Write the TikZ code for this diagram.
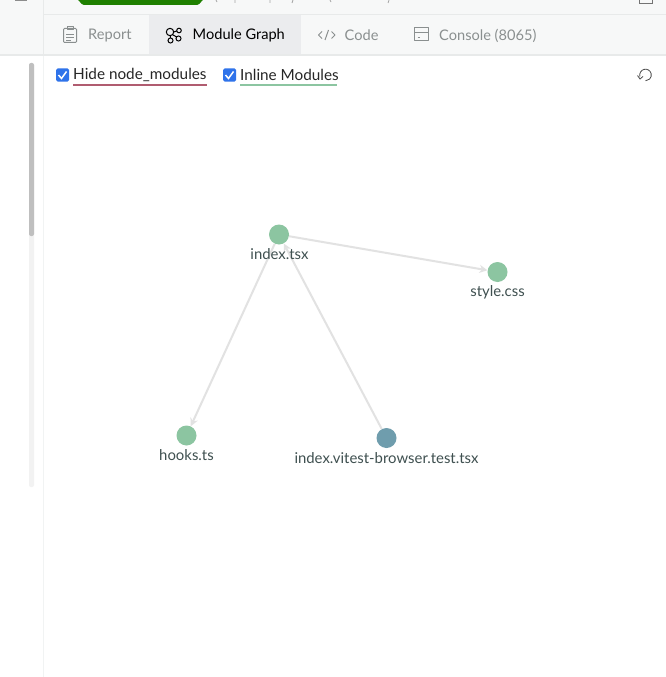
\documentclass[tikz,border=0pt]{standalone}
\usepackage{fontspec}
\setmainfont{Lato}
\usetikzlibrary{arrows.meta}
\definecolor{barbg}{HTML}{F7F8F8}
\definecolor{activebg}{HTML}{EBECEE}
\definecolor{rulec}{HTML}{E8EAEA}
\definecolor{tabgrey}{HTML}{8A8F8F}
\definecolor{modgreen}{HTML}{8CC5A1}
\definecolor{testblue}{HTML}{6F9DAD}
\definecolor{edgec}{HTML}{E2E2E2}
\definecolor{labelc}{HTML}{3F5050}
\definecolor{pillgreen}{HTML}{1F8000}
\definecolor{checkblue}{HTML}{2F73EA}
\definecolor{hideline}{HTML}{B05C70}
\tikzset{
  x=1pt,y=-1pt,
  tablabel/.style={anchor=west,inner sep=0pt,font=\fontsize{14.6}{17}\selectfont,text=tabgrey},
  tabicon/.style={draw=tabgrey,line width=1pt,line join=round},
  opt/.style={anchor=west,inner sep=0pt,font=\fontsize{15.3}{18}\selectfont,text=black!85},
  check/.style={fill=checkblue,rounded corners=1.5pt,minimum size=13pt,inner sep=0pt},
  graphnode/.style={circle,minimum size=20pt,inner sep=0pt},
  graphlabel/.style={inner sep=0pt,font=\fontsize{14.9}{18}\selectfont,text=labelc},
  edge/.style={draw=edgec,line width=2pt,-{Stealth[length=8pt,width=8pt,fill=edgec!90!black]}},
}
\begin{document}
\begin{tikzpicture}
\useasboundingbox (0,0) rectangle (666,677);
\fill[white] (0,0) rectangle (666,677);
% top bars
\fill[barbg] (0,0) rectangle (666,55);
\fill[activebg] (149,14.5) rectangle (301,55);
\draw[rulec,line width=1pt] (43,14.5) -- (666,14.5);
\draw[rulec,line width=1.5pt] (0,55) -- (666,55);
\draw[rulec,line width=.8pt] (43.5,0) -- (43.5,55);
\draw[rulec!60,line width=.8pt] (43.5,56) -- (43.5,677);
% clipped top row
\draw[black!45,line width=1pt] (15,1) -- (27,1);
\fill[pillgreen] (76,0) -- (205,0) to[out=135,in=0] (197,5) -- (84,5) to[out=180,in=45] cycle;
\draw[black!35,line width=.8pt] (216,0) -- (217,2) (235,0) -- (235,3) (270,0) -- (270,3) (293,0) -- (292,3) (330,0) -- (331,2) (389,0) -- (388,3);
\draw[black!55,line width=1pt] (639.5,0) -- (639.5,3.5) -- (652.5,3.5) -- (652.5,0);
% tabs
\draw[tabicon,rounded corners=1pt] (63.5,28.5) rectangle (76.5,42.5);
\draw[tabicon] (67,27) rectangle (73,30);
\draw[tabicon,line width=.7pt] (66,34) -- (74,34) (66,37) -- (74,37) (66,40) -- (71,40);
\node[tablabel] (report) at (88,35.5) {Report};
\begin{scope}[line width=1pt]
\draw (170,32) circle (3.7);
\draw (179,30.5) circle (2.3);
\draw (170.5,40.5) circle (2.5);
\draw (178.5,38.5) circle (2.5);
\draw (173.7,32) -- (176.7,31) (170.3,35.7) -- (170.4,38) (172.6,34.7) -- (176.7,37);
\end{scope}
\node[tablabel,text=black] (graph) at (192.5,35.5) {Module Graph};
\draw[tabicon] (322,31.5) -- (318.5,35) -- (322,38.5) (331.5,31.5) -- (335,35) -- (331.5,38.5) (328.5,30) -- (325,40);
\node[tablabel] (code) at (344.5,35.5) {Code};
\draw[tabicon] (414,28) rectangle (428,41);
\draw[tabicon] (414,32.5) -- (428,32.5) (417.5,38) -- (420,38);
\node[tablabel] (console) at (439,35.5) {Console (8065)};
% scrollbar
\fill[black!5,rounded corners=2pt] (29,63) rectangle (34,487);
\fill[black!25,rounded corners=2pt] (29,63) rectangle (34,236);
% options
\node[check] (cb1) at (62.5,75) {};
\draw[white,line width=1.5pt] (58.5,75) -- (61.5,78.5) -- (66.5,71.5);
\node[opt] (hide) at (73,74.5) {Hide node\_modules};
\draw[hideline,line width=1.6pt] (73,85) -- (207,85);
\node[check] (cb2) at (229.5,75) {};
\draw[white,line width=1.5pt] (225.5,75) -- (228.5,78.5) -- (233.5,71.5);
\node[opt] (inline) at (240,74.5) {Inline Modules};
\draw[modgreen,line width=1.6pt] (240,85) -- (337,85);
% reset icon
\draw[black!70,line width=.8pt] (639.9,76.5) arc[start angle=165,end angle=450,radius=5.8];
\draw[black!70,line width=.8pt] (637.5,75.5) -- (640,79) -- (643,76.5);
% graph
\node[graphnode,fill=modgreen] (index) at (279,234.5) {};
\node[graphnode,fill=modgreen] (style) at (497.5,272) {};
\node[graphnode,fill=modgreen] (hooks) at (186.5,435.5) {};
\node[graphnode,fill=testblue] (test) at (386.5,438) {};
\draw[edge] (index) -- (style);
\draw[edge] (index) -- (hooks);
\draw[edge] (test) -- (index);
\node[graphlabel] (lindex) at (279.5,254) {index.tsx};
\node[graphlabel] (lstyle) at (497.5,292) {style.css};
\node[graphlabel] (lhooks) at (186.5,455) {hooks.ts};
\node[graphlabel] (ltest) at (386.5,458) {index.vitest-browser.test.tsx};
\end{tikzpicture}
\end{document}
